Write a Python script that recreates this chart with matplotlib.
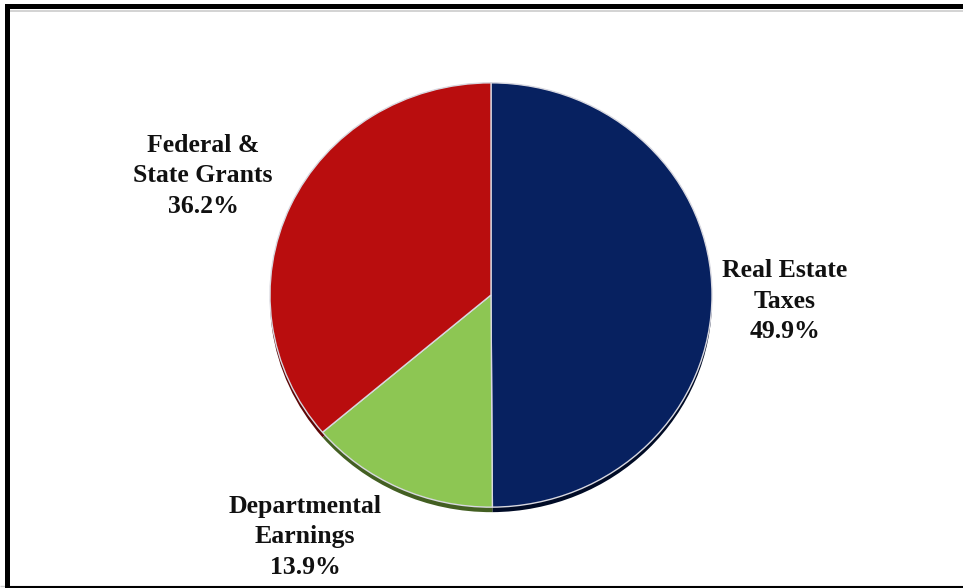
import matplotlib
matplotlib.use("Agg")
import matplotlib.pyplot as plt
from matplotlib.patches import Rectangle

categories = ["Real Estate\nTaxes", "Departmental\nEarnings", "Federal &\nState Grants"]
values = [49.9, 13.9, 36.2]
face_colors = ["#072160", "#8DC653", "#B90D0E"]
rim_colors = ["#000B26", "#435F22", "#5E0606"]

W, H = 963, 588
SY = 0.96  # vertical squash of the pie
fig = plt.figure(figsize=(W / 100, H / 100), dpi=100)
ax = fig.add_axes([0, 0, 1, 1])

cx, cy_px, r = 491, 295, 221
cy = (H - cy_px) / SY

# rim / depth
ax.pie(values, colors=rim_colors, startangle=90, counterclock=False,
       radius=r, center=(cx, cy - 5 / SY), frame=True,
       wedgeprops=dict(linewidth=0))
# face
ax.pie(values, colors=face_colors, startangle=90, counterclock=False,
       radius=r, center=(cx, cy), frame=True,
       wedgeprops=dict(edgecolor="#D8D8E0", linewidth=1.0))
ax.set_aspect("auto")
ax.set_xlim(0, W)
ax.set_ylim(0, H / SY)
ax.axis("off")

def px(x, y):
    return x / W, 1 - y / H

label_pos = [(785, 301), (305, 537), (203, 176)]
for cat, v, (x, y) in zip(categories, values, label_pos):
    fx, fy = px(x, y)
    fig.text(fx, fy, f"{cat}\n{v:.1f}%", transform=fig.transFigure,
             ha="center", va="center", fontsize=18.5, fontweight="bold",
             family="Liberation Serif", linespacing=1.4, color="#111111")

# frame
fig.patches.append(Rectangle((9 / W, 0), 1, 1 - 10.5 / H, transform=fig.transFigure,
                             fill=False, edgecolor="#CCCCCC", linewidth=1.2))
fig.patches.append(Rectangle((0, 1 - 586 / H), 1, 0, transform=fig.transFigure,
                             fill=False, edgecolor="#D0D0D0", linewidth=1))
fig.patches.append(Rectangle((6.5 / W, 0), 1.1, 1 - 6 / H, transform=fig.transFigure,
                             fill=False, edgecolor="black", linewidth=3.6))

fig.savefig("out.png", dpi=100, facecolor="white")
